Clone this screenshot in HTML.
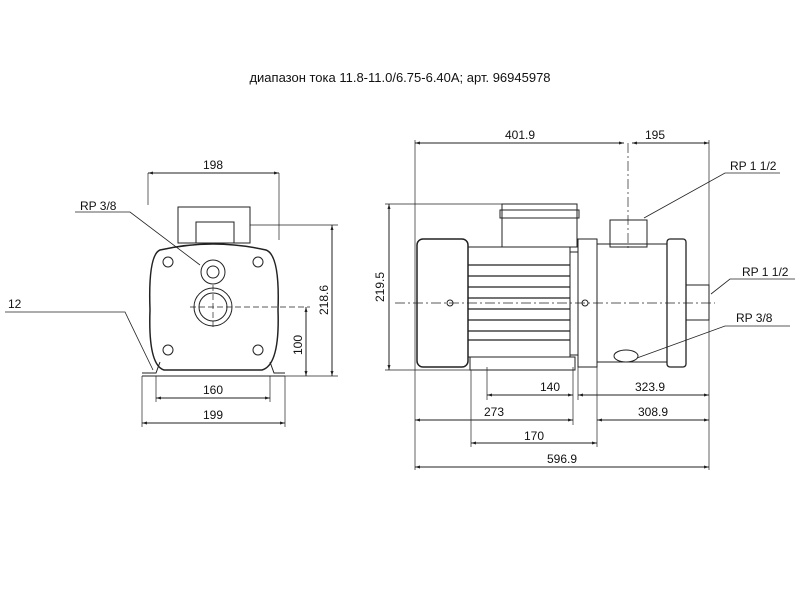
<!DOCTYPE html>
<html><head><meta charset="utf-8"><style>
body{margin:0;background:#fff}
svg{display:block}
text{font-family:"Liberation Sans",sans-serif;font-size:12px;fill:#111}
</style></head><body>
<svg width="800" height="600" viewBox="0 0 800 600" xmlns="http://www.w3.org/2000/svg">
<defs><marker id="a" viewBox="0 0 10 10" refX="10" refY="5" markerWidth="7" markerHeight="5" orient="auto-start-reverse"><path d="M0,2L10,5L0,8z" fill="#222"/></marker></defs>
<text x="400" y="82" text-anchor="middle" style="font-size:13px">диапазон тока 11.8-11.0/6.75-6.40A; арт. 96945978</text>
<g stroke="#222" fill="none" stroke-width="1">
<!-- LEFT VIEW -->
<rect x="178" y="207" width="72" height="36"/><rect x="196" y="222" width="38" height="21"/>
<path d="M160,250 Q213,238 266,250 Q280,255 278,310 Q280,365 262,370 L164,370 Q148,365 150,310 Q148,255 160,250z" stroke-width="1.5"/>
<path d="M142,373 L156,373 L160,362 M270,362 L274,373 L285,373 M142,376 H285" />
<circle cx="213" cy="272" r="12"/><circle cx="213" cy="272" r="6"/>
<circle cx="213" cy="307" r="19"/><circle cx="213" cy="307" r="14"/>
<circle cx="168" cy="262" r="5"/><circle cx="258" cy="262" r="5"/><circle cx="168" cy="350" r="5"/><circle cx="258" cy="350" r="5"/>
<path d="M190,307 H310 M213,285 V330" stroke-dasharray="6,3" stroke-width=".7"/>
<path d="M148,173 V205 M279,173 V240" stroke-width=".7"/>
<line x1="148" y1="173" x2="279" y2="173" marker-start="url(#a)" marker-end="url(#a)"/>
<path d="M250,225 H338 M285,376 H338" stroke-width=".7"/>
<line x1="332" y1="225" x2="332" y2="376" marker-start="url(#a)" marker-end="url(#a)"/>
<line x1="306" y1="307" x2="306" y2="376" marker-start="url(#a)" marker-end="url(#a)"/>
<path d="M156,376 V402 M270,376 V402 M142,376 V427 M285,376 V427" stroke-width=".7"/>
<line x1="156" y1="398" x2="270" y2="398" marker-start="url(#a)" marker-end="url(#a)"/>
<line x1="142" y1="423" x2="285" y2="423" marker-start="url(#a)" marker-end="url(#a)"/>
<path d="M75,212 H130 L200,265" stroke-width=".8"/>
<path d="M5,312 H125 L153,370" stroke-width=".8"/>
<!-- RIGHT VIEW -->
<rect x="417" y="239" width="51" height="128" rx="6" stroke-width="1.5"/>
<rect x="468" y="247" width="102" height="110"/>
<path d="M468,265 H570 M468,276 H570 M468,287 H570 M468,298 H570 M468,309 H570 M468,320 H570 M468,331 H570 M468,340 H570" stroke-width="1.3"/>
<rect x="502" y="204" width="75" height="43"/><rect x="500" y="210" width="79" height="8"/>
<rect x="570" y="252" width="8" height="103"/>
<rect x="578" y="239" width="19" height="128"/>
<rect x="597" y="244" width="70" height="118"/>
<rect x="610" y="220" width="37" height="27"/>
<rect x="667" y="239" width="19" height="128" rx="3" stroke-width="1.3"/>
<rect x="686" y="285" width="23" height="35"/>
<ellipse cx="626" cy="356" rx="12" ry="6"/>
<rect x="470" y="357" width="105" height="13"/>
<path d="M395,303 H715 M628,143 V250" stroke-dasharray="10,3,2,3" stroke-width=".7"/>
<path d="M415,140 V470 M709,140 V470" stroke-width=".7"/>
<line x1="415" y1="143" x2="624" y2="143" marker-start="url(#a)" marker-end="url(#a)"/>
<line x1="632" y1="143" x2="709" y2="143" marker-start="url(#a)" marker-end="url(#a)"/>
<path d="M385,204 H502 M385,370 H470" stroke-width=".7"/>
<line x1="389" y1="204" x2="389" y2="370" marker-start="url(#a)" marker-end="url(#a)"/>
<path d="M487,367 V400 M573,367 V425 M578,367 V400 M597,367 V447 M471,370 V447" stroke-width=".7"/>
<line x1="487" y1="395" x2="573" y2="395" marker-start="url(#a)" marker-end="url(#a)"/>
<line x1="578" y1="395" x2="709" y2="395" marker-start="url(#a)" marker-end="url(#a)"/>
<line x1="415" y1="420" x2="573" y2="420" marker-start="url(#a)" marker-end="url(#a)"/>
<line x1="597" y1="420" x2="709" y2="420" marker-start="url(#a)" marker-end="url(#a)"/>
<line x1="471" y1="443" x2="597" y2="443" marker-start="url(#a)" marker-end="url(#a)"/>
<line x1="415" y1="467" x2="709" y2="467" marker-start="url(#a)" marker-end="url(#a)"/>
<path d="M780,173 H725 L644,218" stroke-width=".8"/>
<path d="M795,279 H730 L711,294" stroke-width=".8"/>
<path d="M790,326 H725 L637,358" stroke-width=".8"/>
</g>
<circle cx="450" cy="303" r="3" fill="none" stroke="#222"/><circle cx="585" cy="303" r="3" fill="none" stroke="#222"/>
<text x="213" y="169" text-anchor="middle">198</text>
<text x="80" y="210">RP 3/8</text>
<text x="8" y="308">12</text>
<text x="328" y="300" text-anchor="middle" transform="rotate(-90 328 300)">218.6</text>
<text x="302" y="345" text-anchor="middle" transform="rotate(-90 302 345)">100</text>
<text x="213" y="394" text-anchor="middle">160</text>
<text x="213" y="419" text-anchor="middle">199</text>
<text x="520" y="139" text-anchor="middle">401.9</text>
<text x="655" y="139" text-anchor="middle">195</text>
<text x="384" y="287" text-anchor="middle" transform="rotate(-90 384 287)">219.5</text>
<text x="730" y="170">RP 1 1/2</text>
<text x="742" y="276">RP 1 1/2</text>
<text x="736" y="322">RP 3/8</text>
<text x="550" y="391" text-anchor="middle">140</text>
<text x="650" y="391" text-anchor="middle">323.9</text>
<text x="494" y="416" text-anchor="middle">273</text>
<text x="653" y="416" text-anchor="middle">308.9</text>
<text x="534" y="440" text-anchor="middle">170</text>
<text x="562" y="463" text-anchor="middle">596.9</text>
</svg>
</body></html>
